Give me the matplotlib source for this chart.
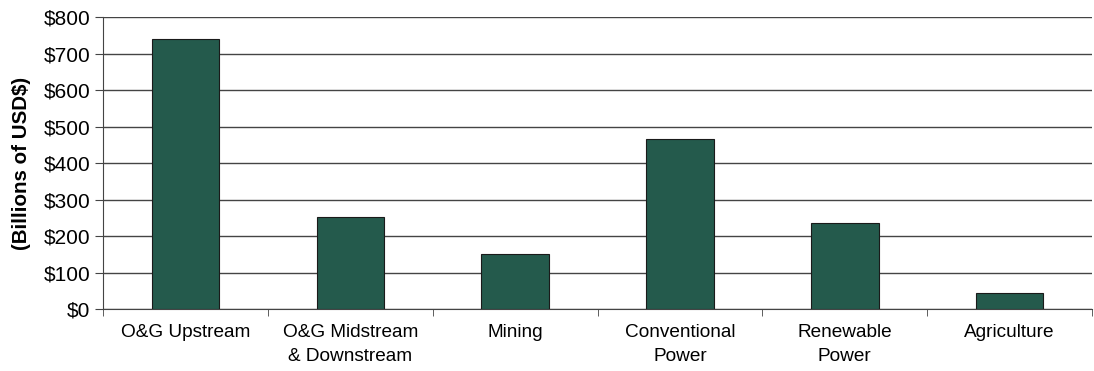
import matplotlib
matplotlib.use("Agg")
import matplotlib.pyplot as plt
from matplotlib.ticker import FixedLocator

categories = ["O&G Upstream", "O&G Midstream\n& Downstream", "Mining",
              "Conventional\nPower", "Renewable\nPower", "Agriculture"]
values = [740, 253, 150, 467, 236, 43]
yticks = [0, 100, 200, 300, 400, 500, 600, 700, 800]
ytick_labels = ["$0", "$100", "$200", "$300", "$400", "$500", "$600", "$700", "$800"]

plt.rcParams['font.family'] = ['Liberation Sans', 'DejaVu Sans']

fig = plt.figure(figsize=(10.94, 3.71), dpi=100)
ax = fig.add_axes([0.0942, 0.167, 0.904, 0.787])

x = list(range(len(categories)))
ax.bar(x, values, width=0.41, color="#245a4c", edgecolor="#1a1a1a", linewidth=0.8, zorder=3)

ax.set_xlim(-0.5, len(categories) - 0.5)
ax.set_ylim(0, 800)
ax.set_yticks(yticks)
ax.set_yticklabels(ytick_labels, fontsize=15)
ax.yaxis.grid(True, color="#444444", linewidth=1.0, zorder=0)
ax.set_axisbelow(True)

ax.set_xticks(x)
ax.set_xticklabels(categories, fontsize=13.7, linespacing=1.5)
ax.tick_params(axis='x', which='major', length=0, pad=11)
ax.xaxis.set_minor_locator(FixedLocator([i + 0.5 for i in range(-1, len(categories))]))
ax.tick_params(axis='x', which='minor', length=5, direction='out', color="#444444")
ax.tick_params(axis='y', length=6, direction='out', color="#444444", pad=3)

for s in ['top', 'right']:
    ax.spines[s].set_visible(False)
ax.spines['left'].set_color("#444444")
ax.spines['bottom'].set_color("#444444")

ax.set_ylabel("(Billions of USD$)", fontsize=14.8, fontweight='bold')
ax.yaxis.set_label_coords(-0.073, 0.5)

fig.savefig("out.png", dpi=100)
